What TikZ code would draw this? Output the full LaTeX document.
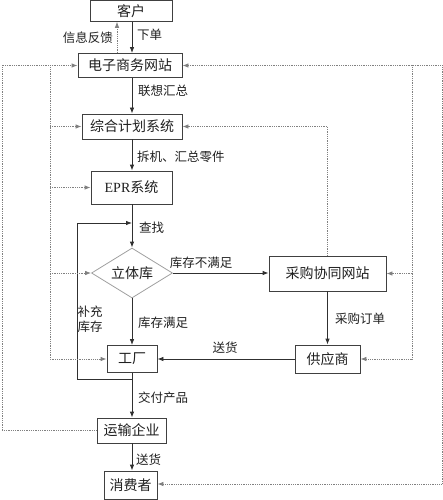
\documentclass[tikz,border=0pt]{standalone}
\usepackage{fontspec}
\setmainfont{Liberation Serif}
\newfontfamily\cjk{Noto Sans CJK SC}
\usetikzlibrary{shapes.geometric,arrows.meta}
\definecolor{boxc}{HTML}{404040}
\definecolor{diac}{HTML}{A0A0A0}
\definecolor{linec}{HTML}{303030}
\definecolor{dotc}{HTML}{808080}
\definecolor{txtc}{HTML}{202020}
\begin{document}
\begin{tikzpicture}[x=1pt,y=1pt,
  box/.style={draw=boxc, line width=0.8pt, fill=white, inner sep=0pt, text=txtc,
    font=\cjk\fontsize{14}{15}\selectfont},
  dia/.style={diamond, draw=diac, line width=0.8pt, fill=white, inner sep=0pt, aspect=1.62,
    minimum width=81pt, minimum height=50pt, text=txtc, font=\cjk\fontsize{14}{15}\selectfont},
  lbl/.style={inner sep=0pt, text=txtc, font=\cjk\fontsize{12.5}{15}\selectfont},
  tip/.tip={Latex[length=6pt,width=4.5pt]},
  flow/.style={draw=linec, line width=0.8pt, -tip},
  dot/.style={draw=dotc, line width=0.8pt, densely dotted},
  dotarr/.style={dot, -tip}
]
\useasboundingbox (0,0) rectangle (443,-500);

% named reference columns
\coordinate (sp) at (132,0);
\coordinate (fb) at (117,0);
\coordinate (L1) at (2,0);
\coordinate (L2) at (50,0);
\coordinate (R1) at (412,0);
\coordinate (R2) at (442,0);
\coordinate (lx) at (77,0);
\coordinate (lb) at (132,-379);
\coordinate (lt) at (132,-223);

% nodes
\node[box, minimum width=82pt, minimum height=21pt] (kehu) at (131,-10.9) {客户};
\node[box, minimum width=104pt, minimum height=24pt] (dianzi) at (130,-65.5) {电子商务网站};
\node[box, minimum width=100pt, minimum height=25pt] (zonghe) at (132,-126.5) {综合计划系统};
\node[box, minimum width=81pt, minimum height=33pt] (epr) at (131.5,-187.5) {{\rmfamily EPR}系统};
\node[dia] (ltk) at (132,-273) {立体库};
\node[box, minimum width=117pt, minimum height=35pt] (caigou) at (327.5,-273.5) {采购协同网站};
\node[box, minimum width=50pt, minimum height=27pt] (gc) at (132,-359) {工厂};
\node[box, minimum width=65pt, minimum height=28pt] (gys) at (327.5,-359) {供应商};
\node[box, minimum width=69pt, minimum height=25pt] (ys) at (131.5,-430.5) {运输企业};
\node[box, minimum width=53pt, minimum height=28pt] (xfz) at (130.5,-485) {消费者};

% solid flow
\draw[flow] (kehu.south -| sp) -- (dianzi.north -| sp);
\draw[flow] (dianzi.south -| sp) -- (zonghe.north -| sp);
\draw[flow] (zonghe.south -| sp) -- (epr.north -| sp);
\draw[flow] (epr.south -| sp) -- (ltk.north);
\draw[flow] (ltk.east) -- (caigou.west |- ltk.east);
\draw[flow] (ltk.south) -- (gc.north -| sp);
\draw[flow] (caigou.south) -- (gys.north);
\draw[flow] (gys.west) -- (gc.east);
\draw[flow] (gc.south -| sp) -- (ys.north -| sp);
\draw[flow] (ys.south -| sp) -- (xfz.north -| sp);
\draw[flow] (lb) -| (lx |- lt) -- (lt);

% dotted feedback
\draw[dotarr] (dianzi.north -| fb) -- (kehu.south -| fb);
\draw[dotarr] (ys.west) -- (ys.west -| L1) |- (dianzi.west);
\draw[dotarr] (dianzi.west -| L2) |- (gc.west);
\draw[dotarr] (zonghe.west -| L2) -- (zonghe.west);
\draw[dotarr] (epr.west -| L2) -- (epr.west);
\draw[dotarr] (ltk.west -| L2) -- (ltk.west);
\draw[dot, tip-tip] (dianzi.east) -- (dianzi.east -| R2) |- ([yshift=1pt]xfz.east);
\draw[dotarr] (dianzi.east -| R1) |- (gys.east);
\draw[dotarr] (caigou.east -| R1) -- (caigou.east);
\draw[dotarr] (caigou.north) |- (zonghe.east);

% labels
\node[lbl, anchor=east] (l1) at (113,-38) {信息反馈};
\node[lbl, anchor=west] (l2) at (137,-35) {下单};
\node[lbl, anchor=west] (l3) at (138,-91) {联想汇总};
\node[lbl, anchor=west] (l4) at (137,-157) {拆机、汇总零件};
\node[lbl, anchor=west] (l5) at (139,-228) {查找};
\node[lbl] (l6) at (201,-263) {库存不满足};
\node[lbl, align=center] (l7) at (90,-319) {补充\\库存};
\node[lbl, anchor=west] (l8) at (138,-323) {库存满足};
\node[lbl, anchor=west] (l9) at (335,-319) {采购订单};
\node[lbl] (l10) at (225,-348) {送货};
\node[lbl, anchor=west] (l11) at (138,-398) {交付产品};
\node[lbl, anchor=west] (l12) at (136,-460) {送货};
\end{tikzpicture}
\end{document}
